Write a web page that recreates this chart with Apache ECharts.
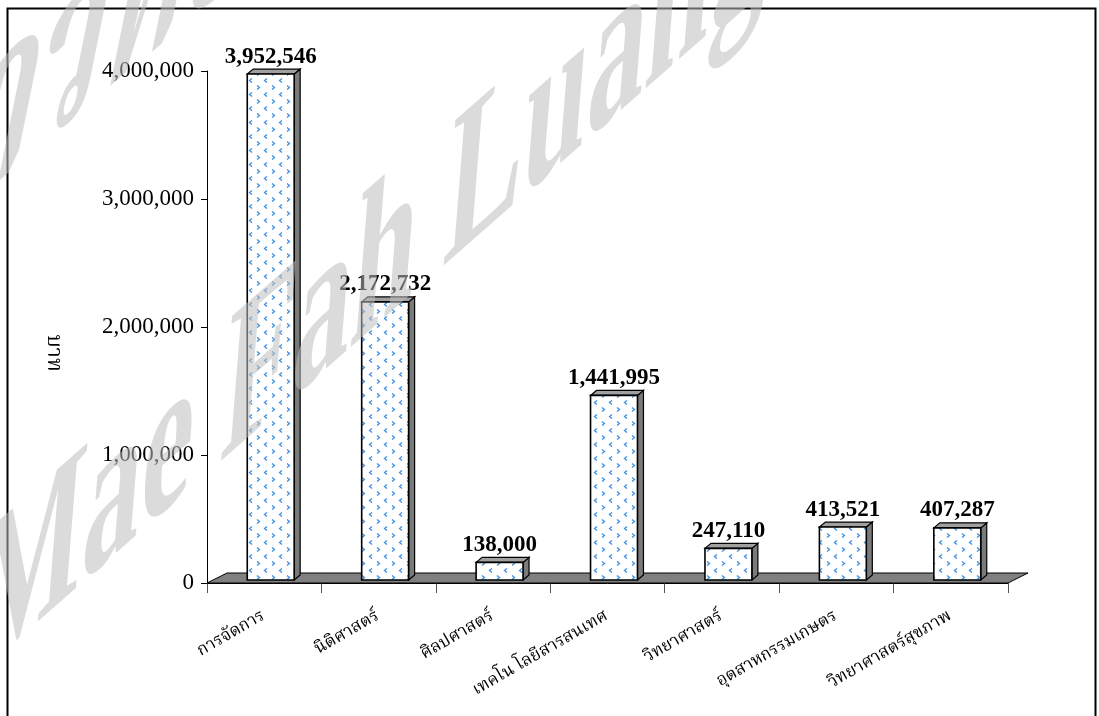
<!DOCTYPE html>
<html>
<head>
<meta charset="utf-8">
<script src="https://cdn.jsdelivr.net/npm/echarts@6/dist/echarts.min.js"></script>
<style>
  html, body { margin: 0; padding: 0; background: #fff; }
  #chart { width: 1099px; height: 716px; }
</style>
</head>
<body>
<div id="chart"></div>
<script>
const categories = ['การจัดการ', 'นิติศาสตร์', 'ศิลปศาสตร์', 'เทคโน โลยีสารสนเทศ', 'วิทยาศาสตร์', 'อุตสาหกรรมเกษตร', 'วิทยาศาสตร์สุขภาพ'];
const budget = [3952546, 2172732, 138000, 1441995, 247110, 413521, 407287];
const yTicks = [0, 1000000, 2000000, 3000000, 4000000];
const yName = 'บาท';

const thaiFont = '"Noto Serif Thai", "Noto Sans Thai", "Norasi", "Loma", "Liberation Serif", serif';
const markFill = 'rgba(190,190,190,0.55)';

function fmt(v) {
    return v.toLocaleString('en-US');
}

// small tile with the blue < > marks used as the bar fill
function makePattern() {
    const c = document.createElement('canvas');
    c.width = 15;
    c.height = 14;
    const g = c.getContext('2d');
    g.fillStyle = '#fff';
    g.fillRect(0, 0, 15, 14);
    g.strokeStyle = '#3d8fe0';
    g.lineWidth = 1.3;
    g.beginPath(); g.moveTo(2, 1.5); g.lineTo(4.5, 3.5); g.lineTo(2, 5.5); g.stroke();
    g.beginPath(); g.moveTo(12, 8.5); g.lineTo(9.5, 10.5); g.lineTo(12, 12.5); g.stroke();
    return c;
}
const pattern = makePattern();

function renderFloor(params, api) {
    const cs = params.coordSys;
    const y0 = api.coord([0, 0])[1];
    const x0 = cs.x, x1 = cs.x + cs.width;
    return {
        type: 'polygon',
        shape: { points: [[x0, y0], [x1, y0], [x1 + 20, y0 - 10], [x0 + 20, y0 - 10]] },
        style: { fill: '#808080', stroke: '#000', lineWidth: 1 }
    };
}

function renderBar(params, api) {
    const idx = api.value(0);
    const val = api.value(1);
    const top = api.coord([idx, val]);
    const base = api.coord([idx, 0]);
    const w = api.size([1, 0])[0] * 0.41;
    const x0 = top[0] - w / 2 + 6.5;
    const x1 = x0 + w;
    const yb = base[1] - 3;
    const yt = top[1] - 3;
    const dx = 6, dy = 5;
    return {
        type: 'group',
        children: [
            {
                type: 'polygon',
                shape: { points: [[x1, yb], [x1 + dx, yb - dy], [x1 + dx, yt - dy], [x1, yt]] },
                style: { fill: '#7a7a7a', stroke: '#000', lineWidth: 1.2 }
            },
            {
                type: 'polygon',
                shape: { points: [[x0, yt], [x0 + dx, yt - dy], [x1 + dx, yt - dy], [x1, yt]] },
                style: { fill: '#a0a0a0', stroke: '#000', lineWidth: 1.2 }
            },
            {
                type: 'rect',
                shape: { x: x0, y: yt, width: w, height: yb - yt },
                style: { fill: { image: pattern, repeat: 'repeat' }, stroke: '#000', lineWidth: 1.6 }
            },
            {
                type: 'text',
                style: {
                    text: fmt(val),
                    x: (x0 + x1) / 2,
                    y: yt - 6,
                    align: 'center',
                    verticalAlign: 'bottom',
                    font: 'bold 23px "Liberation Serif"',
                    fill: '#000'
                }
            }
        ]
    };
}

const chart = echarts.init(document.getElementById('chart'));

chart.setOption({
    animation: false,
    backgroundColor: '#fff',
    grid: {
        left: 207,
        right: 91,
        top: 71,
        bottom: 133,
        outerBoundsMode: 'none'
    },
    xAxis: {
        type: 'category',
        data: categories,
        boundaryGap: true,
        axisLine: { show: true, lineStyle: { color: '#000', width: 1 } },
        axisTick: { show: true, length: 10, lineStyle: { color: '#555' } },
        axisLabel: {
            interval: 0,
            rotate: 30,
            margin: 33,
            color: '#000',
            fontSize: 17,
            fontFamily: thaiFont
        },
        splitLine: { show: false }
    },
    yAxis: {
        type: 'value',
        min: yTicks[0],
        max: yTicks[yTicks.length - 1],
        interval: yTicks[1] - yTicks[0],
        name: yName,
        nameLocation: 'middle',
        nameRotate: -90,
        nameGap: 145,
        nameTextStyle: { color: '#000', fontSize: 21, fontFamily: thaiFont, padding: [0, 0, 0, 52] },
        axisLine: { show: true, lineStyle: { color: '#000', width: 1 } },
        axisTick: { show: true, length: 6, lineStyle: { color: '#000' } },
        axisLabel: {
            margin: 13,
            color: '#000',
            fontSize: 23,
            fontFamily: '"Liberation Serif", "Times New Roman", serif',
            formatter: fmt
        },
        splitLine: { show: false }
    },
    graphic: [
        {
            type: 'rect',
            shape: { x: 7.5, y: 8.5, width: 1088, height: 760 },
            style: { fill: 'none', stroke: '#000', lineWidth: 2 },
            z: 50
        },
        {
            type: 'text',
            x: -225,
            y: 440,
            rotation: 0.7,
            skewX: -0.9,
            style: {
                text: 'มหาวิทยาลัยแม่ฟ้าหลวง',
                font: 'bold 165px ' + thaiFont,
                fill: markFill,
                verticalAlign: 'bottom'
            },
            z: 100
        },
        {
            type: 'text',
            x: -35,
            y: 735,
            rotation: 0.72,
            skewX: -0.8,
            style: {
                text: 'Mae Fah Luang University',
                font: 'bold 155px "Liberation Serif"',
                fill: markFill,
                verticalAlign: 'bottom'
            },
            z: 100
        }
    ],
    series: [
        {
            type: 'custom',
            name: 'floor',
            z: 1,
            silent: true,
            renderItem: renderFloor,
            data: [[0, 0]],
            encode: { x: 0, y: 1 }
        },
        {
            type: 'custom',
            name: 'budget',
            z: 3,
            renderItem: renderBar,
            data: budget.map((v, i) => [i, v]),
            encode: { x: 0, y: 1 }
        }
    ]
});

window.addEventListener('resize', () => {
    chart.resize();
});
</script>
</body>
</html>
